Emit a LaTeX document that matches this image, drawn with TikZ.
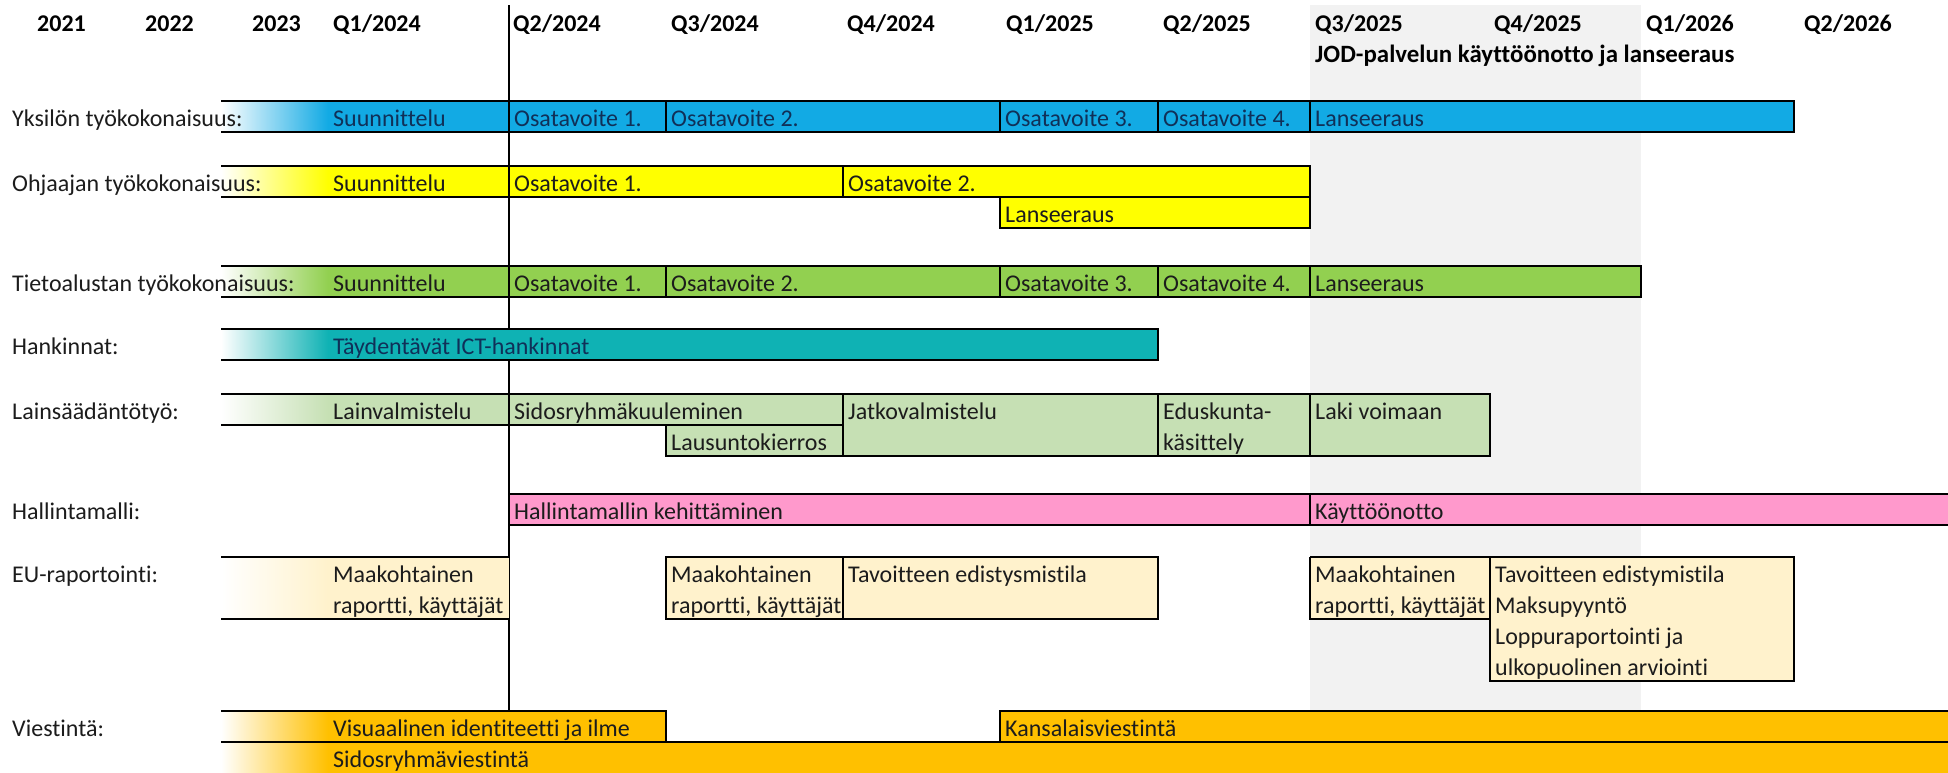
\documentclass[tikz,border=0pt]{standalone}
\usepackage{fontspec}
\setmainfont{Carlito}[Ligatures={NoCommon,NoRare,NoContextual}]
\newcommand\fs{\fontsize{24pt}{28pt}\selectfont}
\newcommand\fsj{\fontsize{24.9pt}{28pt}\selectfont}
\definecolor{cBlue}{RGB}{18,170,228}
\definecolor{cYel}{RGB}{255,255,0}
\definecolor{cGrn}{RGB}{146,208,80}
\definecolor{cTeal}{RGB}{15,178,180}
\definecolor{cLgr}{RGB}{198,224,180}
\definecolor{cPink}{RGB}{255,153,204}
\definecolor{cCream}{RGB}{255,242,204}
\definecolor{cOrg}{RGB}{255,192,0}
\definecolor{cGray}{RGB}{242,242,242}
\definecolor{cInk}{RGB}{28,28,28}
\definecolor{cNavy}{RGB}{16,48,88}
\tikzset{
  bd/.style={draw=black, line width=2.3pt},
  thinln/.style={draw=black, line width=1.2pt},
  txt/.style={anchor=base west, inner sep=0pt, font=\fs, text=cInk},
  btxt/.style={txt, text=cNavy},
  hd/.style={anchor=base west, inner sep=0pt, font=\fs\bfseries, text=black},
}
\begin{document}
\begin{tikzpicture}[x=1pt,y=-1pt]
\useasboundingbox (0,0) rectangle (1948,772);
\fill[white] (0,0) rectangle (1948,772);
% gray highlight
\fill[cGray] (1310,5) rectangle (1641,711);
% thin vertical line
\coordinate (vt) at (509,5);
\coordinate (vb) at (509,711);
\draw[thinln] (vt) -- (vb);

% headers
\node[hd] (h2021) at (37,31) {2021};
\node[hd] (h2022) at (145,31) {2022};
\node[hd] (h2023) at (252,31) {2023};
\node[hd] (hq124) at (333,31) {Q1/2024};
\node[hd] (hq224) at (513,31) {Q2/2024};
\node[hd] (hq324) at (671,31) {Q3/2024};
\node[hd] (hq424) at (847,31) {Q4/2024};
\node[hd] (hq125) at (1006,31) {Q1/2025};
\node[hd] (hq225) at (1163,31) {Q2/2025};
\node[hd] (hq325) at (1315,31) {Q3/2025};
\node[hd] (hq425) at (1494,31) {Q4/2025};
\node[hd] (hq126) at (1646,31) {Q1/2026};
\node[hd] (hq226) at (1804,31) {Q2/2026};
\node[hd, font=\fsj\bfseries] (jod) at (1315,62) {JOD-palvelun käyttöönotto ja lanseeraus};

% ---------- Yksilön (101-132)
\fill[left color=white, right color=cBlue] (221,101) rectangle (328,132);
\fill[cBlue] (328,101) rectangle (1794,132);
\draw[bd] (221,101) -- (1794,101) -- (1794,132) -- (221,132);
\draw[thinln] (509,101) -- (509,132);
\foreach \x in {666,1000,1158,1310} \draw[bd] (\x,101) -- (\x,132);
% ---------- Ohjaajan (166-197, 197-228)
\fill[left color=white, right color=cYel] (221,166) rectangle (328,197);
\fill[cYel] (328,166) rectangle (1310,197);
\fill[cYel] (1000,197) rectangle (1310,228);
\draw[bd] (221,166) -- (1310,166) -- (1310,197) -- (221,197);
\draw[thinln] (509,166) -- (509,197);
\draw[bd] (843,166) -- (843,197);
\draw[bd] (1000,197) rectangle (1310,228);
% ---------- Tietoalustan (266-297)
\fill[left color=white, right color=cGrn] (221,266) rectangle (328,297);
\fill[cGrn] (328,266) rectangle (1641,297);
\draw[bd] (221,266) -- (1641,266) -- (1641,297) -- (221,297);
\draw[thinln] (509,266) -- (509,297);
\foreach \x in {666,1000,1158,1310} \draw[bd] (\x,266) -- (\x,297);
% ---------- Hankinnat (329-360)
\fill[left color=white, right color=cTeal] (221,329) rectangle (328,360);
\fill[cTeal] (328,329) rectangle (1158,360);
\draw[bd] (221,329) -- (1158,329) -- (1158,360) -- (221,360);
% ---------- Lainsäädäntö (394-425-456)
\fill[left color=white, right color=cLgr] (221,394) rectangle (328,425);
\fill[cLgr] (328,394) rectangle (843,425);
\fill[cLgr] (666,425) rectangle (843,456);
\fill[cLgr] (843,394) rectangle (1490,456);
\draw[bd] (221,394) -- (1490,394) -- (1490,456) -- (666,456) -- (666,425);
\draw[bd] (221,425) -- (843,425);
\draw[thinln] (509,394) -- (509,425);
\foreach \x in {843,1158,1310} \draw[bd] (\x,394) -- (\x,456);
% ---------- Hallintamalli (494-525)
\fill[cPink] (509,494) rectangle (1948,525);
\draw[bd] (1948,494) -- (509,494) -- (509,525) -- (1948,525);
\draw[bd] (1310,494) -- (1310,525);
% ---------- EU (557-619, 557-681)
\fill[left color=white, right color=cCream] (221,557) rectangle (328,619);
\fill[cCream] (328,557) rectangle (509,619);
\draw[bd] (221,557) -- (509,557);
\draw[bd] (221,619) -- (509,619);
\fill[cCream] (666,557) rectangle (1158,619);
\draw[bd] (666,557) rectangle (1158,619);
\draw[bd] (843,557) -- (843,619);
\fill[cCream] (1310,557) rectangle (1794,619);
\fill[cCream] (1490,557) rectangle (1794,681);
\draw[bd] (1310,557) -- (1794,557) -- (1794,681) -- (1490,681) -- (1490,557);
\draw[bd] (1310,557) -- (1310,619) -- (1490,619);
% ---------- Viestintä (711-742-773)
\fill[left color=white, right color=cOrg] (221,711) rectangle (328,773);
\fill[cOrg] (328,711) rectangle (666,742);
\fill[cOrg] (328,742) rectangle (1948,773);
\fill[cOrg] (1000,711) rectangle (1948,742);
\draw[bd] (221,711) -- (666,711) -- (666,742);
\draw[bd] (1948,711) -- (1000,711) -- (1000,742);
\draw[bd] (221,742) -- (1948,742);

% row labels
\node[txt] (lY) at (12,126) {Yksilön työkokonaisuus:};
\node[txt] (lO) at (12,191) {Ohjaajan työkokonaisuus:};
\node[txt] (lT) at (12,291) {Tietoalustan työkokonaisuus:};
\node[txt] (lH) at (12,354) {Hankinnat:};
\node[txt] (lL) at (12,419) {Lainsäädäntötyö:};
\node[txt] (lHal) at (12,519) {Hallintamalli:};
\node[txt] (lEU) at (12,582) {EU-raportointi:};
\node[txt] (lV) at (12,736) {Viestintä:};

% Yksilön texts
\node[btxt] (y1) at (333,126) {Suunnittelu};
\node[btxt] (y2) at (514,126) {Osatavoite 1.};
\node[btxt] (y3) at (671,126) {Osatavoite 2.};
\node[btxt] (y4) at (1005,126) {Osatavoite 3.};
\node[btxt] (y5) at (1163,126) {Osatavoite 4.};
\node[btxt] (y6) at (1315,126) {Lanseeraus};
% Ohjaajan
\node[txt] (o1) at (333,191) {Suunnittelu};
\node[txt] (o2) at (514,191) {Osatavoite 1.};
\node[txt] (o3) at (848,191) {Osatavoite 2.};
\node[txt] (o4) at (1005,222) {Lanseeraus};
% Tietoalustan
\node[txt] (t1) at (333,291) {Suunnittelu};
\node[txt] (t2) at (514,291) {Osatavoite 1.};
\node[txt] (t3) at (671,291) {Osatavoite 2.};
\node[txt] (t4) at (1005,291) {Osatavoite 3.};
\node[txt] (t5) at (1163,291) {Osatavoite 4.};
\node[txt] (t6) at (1315,291) {Lanseeraus};
% Hankinnat
\node[btxt] (hk1) at (333,354) {Täydentävät ICT-hankinnat};
% Lainsäädäntö
\node[txt] (la1) at (333,419) {Lainvalmistelu};
\node[txt] (la2) at (514,419) {Sidosryhmäkuuleminen};
\node[txt] (la3) at (671,450) {Lausuntokierros};
\node[txt] (la4) at (848,419) {Jatkovalmistelu};
\node[txt] (la5) at (1163,419) {Eduskunta-};
\node[txt] (la5b) at (1163,450) {käsittely};
\node[txt] (la6) at (1315,419) {Laki voimaan};
% Hallintamalli
\node[txt] (hm1) at (514,519) {Hallintamallin kehittäminen};
\node[txt] (hm2) at (1315,519) {Käyttöönotto};
% EU
\node[txt] (e1) at (333,582) {Maakohtainen};
\node[txt] (e1b) at (333,613) {raportti, käyttäjät};
\node[txt] (e2) at (671,582) {Maakohtainen};
\node[txt] (e2b) at (671,613) {raportti, käyttäjät};
\node[txt] (e3) at (848,582) {Tavoitteen edistysmistila};
\node[txt] (e4) at (1315,582) {Maakohtainen};
\node[txt] (e4b) at (1315,613) {raportti, käyttäjät};
\node[txt] (e5) at (1495,582) {Tavoitteen edistymistila};
\node[txt] (e5b) at (1495,613) {Maksupyyntö};
\node[txt] (e5c) at (1495,644) {Loppuraportointi ja};
\node[txt] (e5d) at (1495,675) {ulkopuolinen arviointi};
% Viestintä
\node[txt] (v1) at (333,736) {Visuaalinen identiteetti ja ilme};
\node[txt] (v2) at (1005,736) {Kansalaisviestintä};
\node[txt] (v3) at (333,767) {Sidosryhmäviestintä};
\end{tikzpicture}
\end{document}
